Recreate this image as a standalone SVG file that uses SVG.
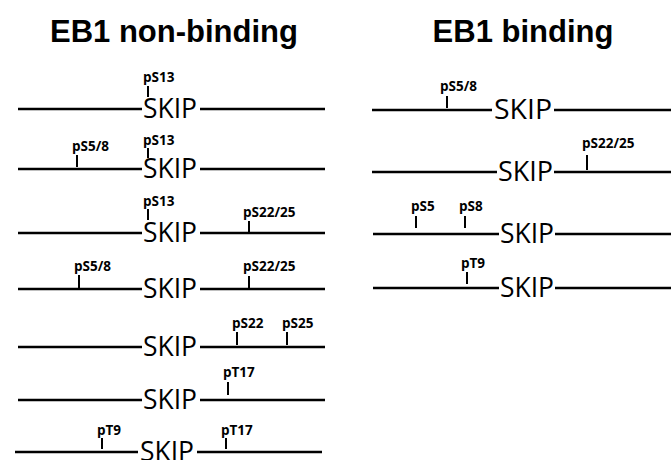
<svg xmlns="http://www.w3.org/2000/svg" width="671" height="460" viewBox="0 0 671 460">
<style>
.t{font-family:"Liberation Sans",Arial,sans-serif;font-weight:bold;font-size:31px;fill:#000;text-anchor:middle}
.s{font-family:"Open Sans","Noto Sans",sans-serif;font-size:28px;fill:#000}
.p{font-family:"Open Sans","Noto Sans",sans-serif;font-weight:bold;font-size:13.5px;fill:#000}
.l{stroke:#000;stroke-width:2.6;fill:none}
.k{stroke:#000;stroke-width:2;fill:none}
</style>
<rect width="671" height="460" fill="#fff"/>
<text class="t" x="174" y="42">EB1 non-binding</text>
<text class="t" x="523" y="42">EB1 binding</text>

<g id="connectors">
<path class="l" d="M18 109H142M200 109H325"/>
<path class="l" d="M18 169H142M200 169H325"/>
<path class="l" d="M18 233H142M200 233H325"/>
<path class="l" d="M18 289H142M200 289H325"/>
<path class="l" d="M18 347H142M200 347H325"/>
<path class="l" d="M18 400H142M200 400H325"/>
<path class="l" d="M15 452H138M197 452H322"/>
<path class="l" d="M372 110H492M554 110H671"/>
<path class="l" d="M372 172H497M554 172H671"/>
<path class="l" d="M373 234H499M555 234H671"/>
<path class="l" d="M373 288H499M555 288H671"/>
</g>

<g id="row-l1">
<text class="s" x="143" y="118" textLength="54" lengthAdjust="spacingAndGlyphs">SKIP</text>
<text class="p" x="143" y="82">pS13</text><path class="k" d="M148 86V97"/>
</g>
<g id="row-l2">
<text class="s" x="143" y="178" textLength="54" lengthAdjust="spacingAndGlyphs">SKIP</text>
<text class="p" x="72" y="151">pS5/8</text><path class="k" d="M77 155V167"/>
<text class="p" x="143" y="145">pS13</text><path class="k" d="M148 148V158"/>
</g>
<g id="row-l3">
<text class="s" x="143" y="242" textLength="54" lengthAdjust="spacingAndGlyphs">SKIP</text>
<text class="p" x="143" y="206">pS13</text><path class="k" d="M148 209V220"/>
<text class="p" x="243" y="217">pS22/25</text><path class="k" d="M249 221V232"/>
</g>
<g id="row-l4">
<text class="s" x="143" y="298" textLength="54" lengthAdjust="spacingAndGlyphs">SKIP</text>
<text class="p" x="74" y="271">pS5/8</text><path class="k" d="M79 275V288"/>
<text class="p" x="243" y="271">pS22/25</text><path class="k" d="M249 276V288"/>
</g>
<g id="row-l5">
<text class="s" x="143" y="356" textLength="54" lengthAdjust="spacingAndGlyphs">SKIP</text>
<text class="p" x="232" y="328">pS22</text><path class="k" d="M237 332V345"/>
<text class="p" x="282" y="328">pS25</text><path class="k" d="M287 332V345"/>
</g>
<g id="row-l6">
<text class="s" x="143" y="409" textLength="54" lengthAdjust="spacingAndGlyphs">SKIP</text>
<text class="p" x="223" y="377">pT17</text><path class="k" d="M228 382V395"/>
</g>
<g id="row-l7">
<text class="s" x="140" y="461" textLength="54" lengthAdjust="spacingAndGlyphs">SKIP</text>
<text class="p" x="97" y="435">pT9</text><path class="k" d="M102 438V449"/>
<text class="p" x="221" y="435">pT17</text><path class="k" d="M226 438V449"/>
</g>

<g id="row-r1">
<text class="s" x="494" y="119" textLength="58" lengthAdjust="spacingAndGlyphs">SKIP</text>
<text class="p" x="440" y="91">pS5/8</text><path class="k" d="M447 96V108"/>
</g>
<g id="row-r2">
<text class="s" x="498" y="181" textLength="55" lengthAdjust="spacingAndGlyphs">SKIP</text>
<text class="p" x="582" y="148">pS22/25</text><path class="k" d="M587 155V170"/>
</g>
<g id="row-r3">
<text class="s" x="500" y="243" textLength="54" lengthAdjust="spacingAndGlyphs">SKIP</text>
<text class="p" x="411" y="211">pS5</text><path class="k" d="M416 216V228"/>
<text class="p" x="459" y="211">pS8</text><path class="k" d="M465 216V228"/>
</g>
<g id="row-r4">
<text class="s" x="500" y="297" textLength="54" lengthAdjust="spacingAndGlyphs">SKIP</text>
<text class="p" x="461" y="268">pT9</text><path class="k" d="M467 272V284"/>
</g>
</svg>
